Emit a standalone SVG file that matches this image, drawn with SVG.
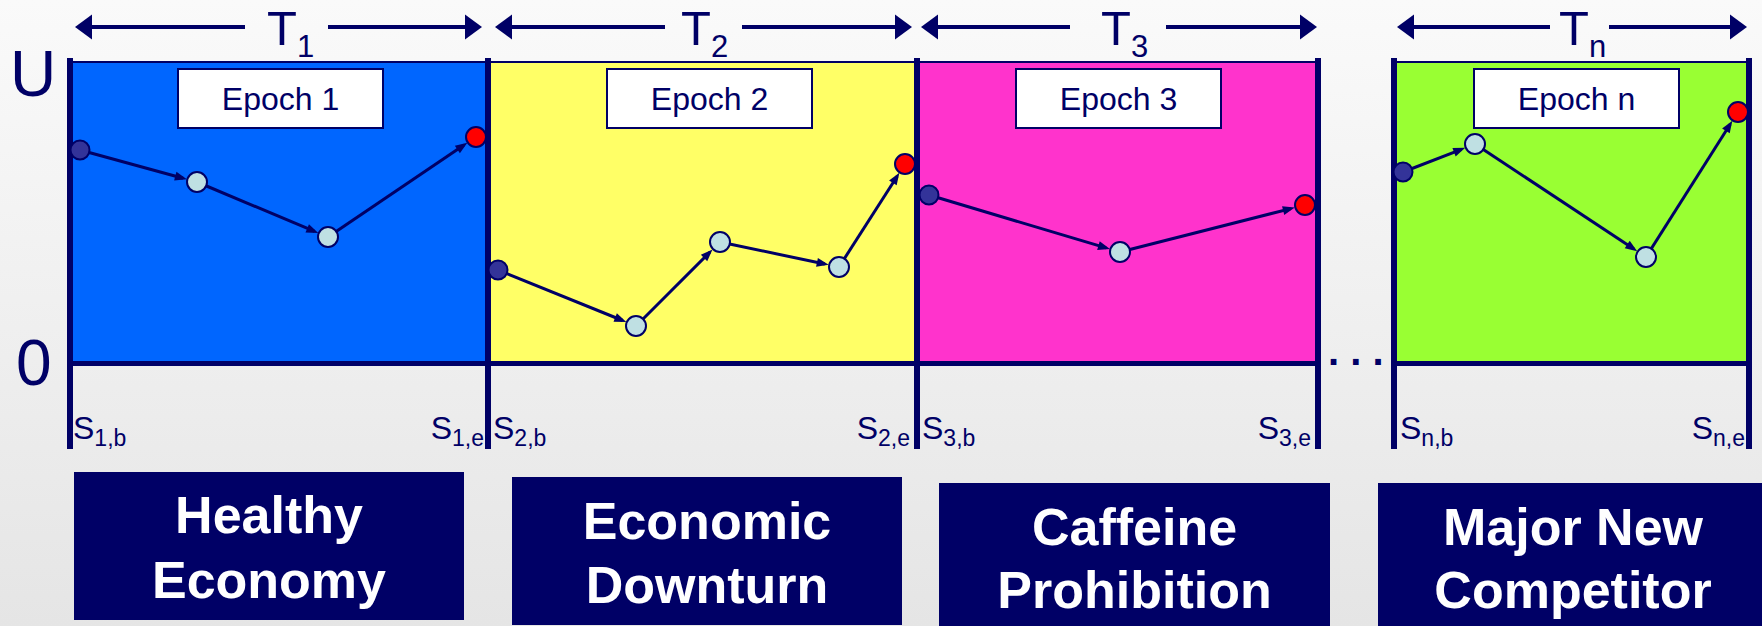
<svg xmlns="http://www.w3.org/2000/svg" width="1762" height="626" viewBox="0 0 1762 626">
<defs>
<linearGradient id="bg" x1="0" y1="0" x2="0" y2="1">
<stop offset="0" stop-color="#fafafa"/>
<stop offset="1" stop-color="#e5e5e5"/>
</linearGradient>
<marker id="big" markerUnits="userSpaceOnUse" markerWidth="17" markerHeight="25" refX="0" refY="12.5" orient="auto" overflow="visible">
<path d="M0,0 L17,12.5 L0,25 z" fill="#000066"/>
</marker>
<marker id="sm" markerUnits="userSpaceOnUse" markerWidth="12" markerHeight="9" refX="8" refY="4.5" orient="auto" overflow="visible">
<path d="M0,0 L12,4.5 L0,9 z" fill="#000066"/>
</marker>
</defs>
<style>
.t{font-family:"Liberation Sans",Arial,sans-serif;fill:#000066}
.ep{font-family:"Liberation Sans",Arial,sans-serif;font-size:32px;fill:#000066;text-anchor:middle}
.lab{fill:#ffffff;stroke:#000066;stroke-width:2}
.bx{fill:#000066}
.bt{font-family:"Liberation Sans",Arial,sans-serif;font-weight:bold;font-size:52px;fill:#ffffff;text-anchor:middle}
.s{font-family:"Liberation Sans",Arial,sans-serif;font-size:32px;fill:#000066}
.vl{stroke:#000066;stroke-width:6}
.hl{stroke:#000066;stroke-width:5}
.tl{stroke:#000066;stroke-width:2}
.ar{stroke:#000066;stroke-width:4;fill:none}
.cn{stroke:#000066;stroke-width:3;fill:none;marker-end:url(#sm)}
.nd{stroke:#000066;stroke-width:2}
.dk{fill:#333399}
.lt{fill:#bfe0e3}
.rd{fill:#ff0000}
</style>
<rect x="0" y="0" width="1762" height="626" fill="url(#bg)"/>

<!-- axis labels -->
<text class="t" x="10" y="96" font-size="64">U</text>
<text class="t" x="16" y="385" font-size="64">0</text>

<!-- duration arrows -->
<g id="durations">
<line class="ar" x1="245" y1="27" x2="92" y2="27" marker-end="url(#big)"/>
<line class="ar" x1="328" y1="27" x2="465" y2="27" marker-end="url(#big)"/>
<text class="t" x="267" y="45" font-size="49">T<tspan font-size="31" dy="12">1</tspan></text>
<line class="ar" x1="665" y1="27" x2="512" y2="27" marker-end="url(#big)"/>
<line class="ar" x1="742" y1="27" x2="895" y2="27" marker-end="url(#big)"/>
<text class="t" x="681" y="45" font-size="49">T<tspan font-size="31" dy="12">2</tspan></text>
<line class="ar" x1="1070" y1="27" x2="938" y2="27" marker-end="url(#big)"/>
<line class="ar" x1="1166" y1="27" x2="1300" y2="27" marker-end="url(#big)"/>
<text class="t" x="1101" y="45" font-size="49">T<tspan font-size="31" dy="12">3</tspan></text>
<line class="ar" x1="1550" y1="27" x2="1414" y2="27" marker-end="url(#big)"/>
<line class="ar" x1="1609" y1="27" x2="1730" y2="27" marker-end="url(#big)"/>
<text class="t" x="1559" y="45" font-size="49">T<tspan font-size="31" dy="12">n</tspan></text>
</g>

<!-- panels -->
<g id="epoch1">
<rect x="70" y="62" width="418" height="301" fill="#0066ff"/>
<rect class="lab" x="178" y="69" width="205" height="59"/>
<text class="ep" x="280.5" y="110">Epoch 1</text>
</g>
<g id="epoch2">
<rect x="488" y="62" width="429" height="301" fill="#ffff66"/>
<rect class="lab" x="607" y="69" width="205" height="59"/>
<text class="ep" x="709.5" y="110">Epoch 2</text>
</g>
<g id="epoch3">
<rect x="917" y="62" width="401" height="301" fill="#ff33cc"/>
<rect class="lab" x="1016" y="69" width="205" height="59"/>
<text class="ep" x="1118.5" y="110">Epoch 3</text>
</g>
<g id="epochn">
<rect x="1394" y="62" width="355" height="301" fill="#99ff33"/>
<rect class="lab" x="1474" y="69" width="205" height="59"/>
<text class="ep" x="1576.5" y="110">Epoch n</text>
</g>

<!-- frame lines -->
<g id="frame">
<line class="tl" x1="70" y1="62" x2="1318" y2="62"/>
<line class="tl" x1="1394" y1="62" x2="1749" y2="62"/>
<line class="hl" x1="70" y1="363.5" x2="1318" y2="363.5"/>
<line class="hl" x1="1394" y1="363.5" x2="1749" y2="363.5"/>
<line class="vl" x1="70" y1="58" x2="70" y2="449"/>
<line class="vl" x1="488" y1="58" x2="488" y2="449"/>
<line class="vl" x1="917" y1="58" x2="917" y2="449"/>
<line class="vl" x1="1318" y1="58" x2="1318" y2="449"/>
<line class="vl" x1="1394" y1="58" x2="1394" y2="449"/>
<line class="vl" x1="1749" y1="58" x2="1749" y2="449"/>
</g>
<text class="t" x="1328" y="365" font-size="40" font-weight="bold">. . .</text>

<!-- connectors -->
<g id="connectors">
<line class="cn" x1="80" y1="150" x2="183.0" y2="178.2"/>
<line class="cn" x1="197" y1="182" x2="314.6" y2="231.4"/>
<line class="cn" x1="328" y1="237" x2="464.0" y2="145.1"/>
<line class="cn" x1="498" y1="270" x2="622.6" y2="320.5"/>
<line class="cn" x1="636" y1="326" x2="709.7" y2="252.3"/>
<line class="cn" x1="720" y1="242" x2="824.8" y2="264.0"/>
<line class="cn" x1="839" y1="267" x2="897.2" y2="176.2"/>
<line class="cn" x1="929" y1="195" x2="1106.1" y2="247.9"/>
<line class="cn" x1="1120" y1="252" x2="1290.9" y2="208.6"/>
<line class="cn" x1="1403" y1="172" x2="1461.5" y2="149.3"/>
<line class="cn" x1="1475" y1="144" x2="1633.9" y2="249.0"/>
<line class="cn" x1="1646" y1="257" x2="1730.2" y2="124.2"/>
</g>

<!-- state nodes -->
<g id="s1b"><circle class="nd dk" cx="80" cy="150" r="9.5"/></g>
<g id="s1a"><circle class="nd lt" cx="197" cy="182" r="10"/></g>
<g id="s1c"><circle class="nd lt" cx="328" cy="237" r="10"/></g>
<g id="s1e"><circle class="nd rd" cx="476" cy="137" r="10"/></g>
<g id="s2b"><circle class="nd dk" cx="498" cy="270" r="9.5"/></g>
<g id="s2a"><circle class="nd lt" cx="636" cy="326" r="10"/></g>
<g id="s2c"><circle class="nd lt" cx="720" cy="242" r="10"/></g>
<g id="s2d"><circle class="nd lt" cx="839" cy="267" r="10"/></g>
<g id="s2e"><circle class="nd rd" cx="905" cy="164" r="10"/></g>
<g id="s3b"><circle class="nd dk" cx="929" cy="195" r="9.5"/></g>
<g id="s3a"><circle class="nd lt" cx="1120" cy="252" r="10"/></g>
<g id="s3e"><circle class="nd rd" cx="1305" cy="205" r="10"/></g>
<g id="snb"><circle class="nd dk" cx="1403" cy="172" r="9.5"/></g>
<g id="sna"><circle class="nd lt" cx="1475" cy="144" r="10"/></g>
<g id="snc"><circle class="nd lt" cx="1646" cy="257" r="10"/></g>
<g id="sne"><circle class="nd rd" cx="1738" cy="112" r="10"/></g>

<!-- state labels -->
<g id="statelabels">
<text class="s" x="73" y="439">S<tspan font-size="23" dy="7">1,b</tspan></text>
<text class="s" x="484" y="439" text-anchor="end">S<tspan font-size="23" dy="7">1,e</tspan></text>
<text class="s" x="493" y="439">S<tspan font-size="23" dy="7">2,b</tspan></text>
<text class="s" x="910" y="439" text-anchor="end">S<tspan font-size="23" dy="7">2,e</tspan></text>
<text class="s" x="922" y="439">S<tspan font-size="23" dy="7">3,b</tspan></text>
<text class="s" x="1311" y="439" text-anchor="end">S<tspan font-size="23" dy="7">3,e</tspan></text>
<text class="s" x="1400" y="439">S<tspan font-size="23" dy="7">n,b</tspan></text>
<text class="s" x="1745" y="439" text-anchor="end">S<tspan font-size="23" dy="7">n,e</tspan></text>
</g>

<!-- scenario boxes -->
<g id="healthy">
<rect class="bx" x="74" y="472" width="390" height="148"/>
<text class="bt" x="269" y="533">Healthy</text>
<text class="bt" x="269" y="598">Economy</text>
</g>
<g id="downturn">
<rect class="bx" x="512" y="477" width="390" height="148"/>
<text class="bt" x="707" y="539">Economic</text>
<text class="bt" x="707" y="603">Downturn</text>
</g>
<g id="caffeine">
<rect class="bx" x="939" y="483" width="391" height="148"/>
<text class="bt" x="1134.5" y="545">Caffeine</text>
<text class="bt" x="1134.5" y="608">Prohibition</text>
</g>
<g id="competitor">
<rect class="bx" x="1378" y="483" width="390" height="148"/>
<text class="bt" x="1573" y="545">Major New</text>
<text class="bt" x="1573" y="608">Competitor</text>
</g>
</svg>
